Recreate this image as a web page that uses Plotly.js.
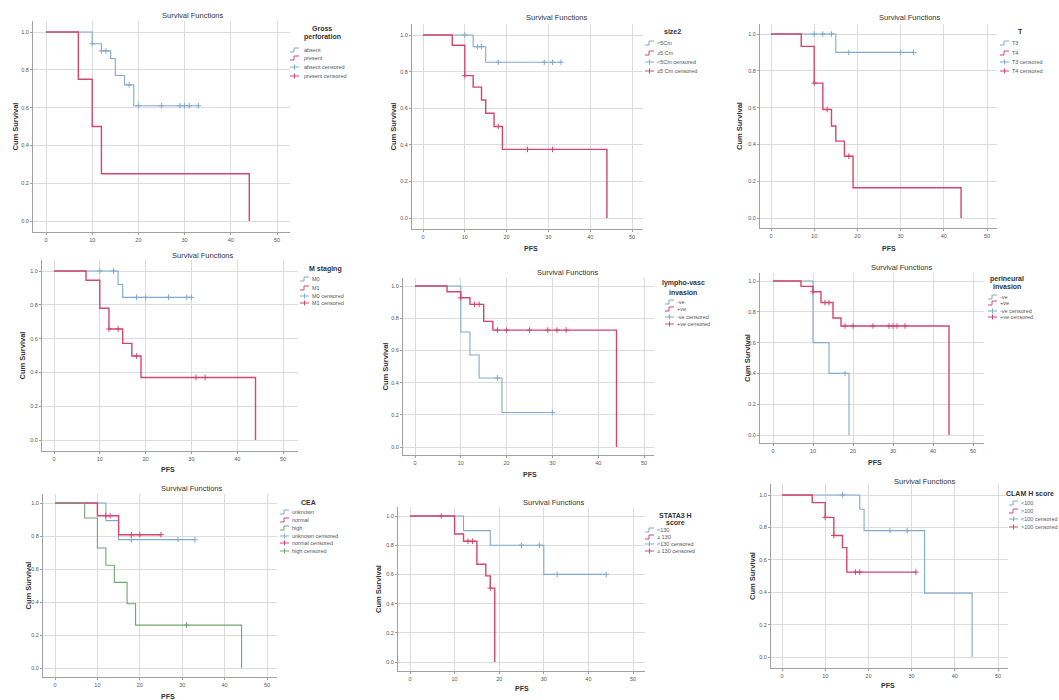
<!DOCTYPE html>
<html>
<head>
<meta charset="utf-8">
<script src="https://cdn.plot.ly/plotly-3.0.1.min.js"></script>
<style>html,body{margin:0;padding:0;background:#fff;}#chart{width:1059px;height:700px;}</style>
</head>
<body>
<div id="chart"></div>
<script>
// ---------------- DATA ----------------
const xTicks = [0, 10, 20, 30, 40, 50];
const yTicks = [0, 0.2, 0.4, 0.6, 0.8, 1.0];

// Panel 1: Gross perforation
const p1Labels = ['absent', 'present'];
const p1aT = [0, 10, 12, 14, 15, 17, 19, 33];
const p1aS = [1, 0.938, 0.90, 0.86, 0.77, 0.72, 0.61, 0.61];
const p1aC = [10, 12, 13, 18, 20, 25, 29, 30, 31, 33];
const p1bT = [0, 7, 10, 12, 44];
const p1bS = [1, 0.75, 0.50, 0.25, 0];
const p1bC = [];

// Panel 2: size2
const p2Labels = ['<5Cm', '\u22655 Cm'];
const p2aT = [0, 12, 15, 33];
const p2aS = [1, 0.936, 0.851, 0.851];
const p2aC = [10, 13, 14, 18, 29, 31, 33];
const p2bT = [0, 7, 10, 12, 14, 15, 17, 19, 44];
const p2bS = [1, 0.944, 0.778, 0.715, 0.645, 0.572, 0.50, 0.375, 0];
const p2bC = [10, 18, 25, 31];

// Panel 3: T
const p3Labels = ['T3', 'T4'];
const p3aT = [0, 15, 33];
const p3aS = [1, 0.90, 0.90];
const p3aC = [10, 12, 14, 18, 30, 33];
const p3bT = [0, 7, 10, 12, 14, 15, 17, 19, 44];
const p3bS = [1, 0.933, 0.733, 0.59, 0.50, 0.418, 0.336, 0.164, 0];
const p3bC = [10, 13, 18];

// Panel 4: M staging
const p4Labels = ['M0', 'M1'];
const p4aT = [0, 14, 15, 30];
const p4aS = [1, 0.92, 0.844, 0.844];
const p4aC = [10, 13, 18, 20, 25, 29, 30];
const p4bT = [0, 7, 10, 12, 15, 17, 19, 44];
const p4bS = [1, 0.945, 0.78, 0.657, 0.572, 0.497, 0.37, 0];
const p4bC = [12, 14, 18, 31, 33];

// Panel 5: lympho-vasc invasion
const p5Labels = ['-ve', '+ve'];
const p5aT = [0, 10, 12, 14, 19, 30];
const p5aS = [1, 0.714, 0.571, 0.429, 0.214, 0.214];
const p5aC = [18, 30];
const p5bT = [0, 7, 10, 12, 15, 17, 44];
const p5bS = [1, 0.964, 0.927, 0.886, 0.78, 0.726, 0];
const p5bC = [10, 13, 14, 18, 20, 25, 29, 31, 33];

// Panel 6: perineural invasion
const p6Labels = ['-ve', '+ve'];
const p6aT = [0, 10, 14, 19];
const p6aS = [1, 0.60, 0.40, 0];
const p6aC = [18];
const p6bT = [0, 7, 10, 12, 15, 17, 44];
const p6bS = [1, 0.965, 0.93, 0.86, 0.76, 0.708, 0];
const p6bC = [10, 13, 14, 18, 20, 25, 29, 30, 31, 33];

// Panel 7: CEA
const p7Labels = ['unknown', 'normal', 'high'];
const p7aT = [0, 12, 15, 33];
const p7aS = [1, 0.893, 0.778, 0.778];
const p7aC = [18, 29, 33];
const p7bT = [0, 10, 15, 25];
const p7bS = [1, 0.923, 0.808, 0.808];
const p7bC = [12, 13, 18, 20, 25];
const p7cT = [0, 7, 10, 12, 14, 17, 19, 44];
const p7cS = [1, 0.909, 0.727, 0.623, 0.519, 0.389, 0.26, 0];
const p7cC = [31];

// Panel 8: STATA3 H score
const p8Labels = ['<130', '\u2265 130'];
const p8aT = [0, 12, 18, 30, 44];
const p8aS = [1, 0.90, 0.80, 0.60, 0.60];
const p8aC = [25, 29, 33, 44];
const p8bT = [0, 10, 12, 15, 17, 18, 19];
const p8bS = [1, 0.877, 0.827, 0.67, 0.59, 0.506, 0];
const p8bC = [7, 13, 14, 18];

// Panel 9: CLAM H score
const p9Labels = ['<100', '>100'];
const p9aT = [0, 18, 19, 33, 44];
const p9aS = [1, 0.912, 0.78, 0.394, 0];
const p9aC = [14, 25, 29];
const p9bT = [0, 7, 10, 12, 14, 15, 31];
const p9bS = [1, 0.953, 0.862, 0.75, 0.675, 0.524, 0.524];
const p9bC = [10, 12, 17, 18, 31];

const legendTitles = [['Gross', 'perforation'], ['size2'], ['T'], ['M staging'], ['lympho-vasc', 'invasion'],
  ['perineural', 'invasion'], ['CEA'], ['STATA3 H', 'score'], ['CLAM H score']];

// ---------------- LAYOUT / STYLE ----------------
const W = 1059, H = 700;
const FONT = '"Liberation Sans", Arial, sans-serif';
const BLUE = '#82a9ce', RED = '#d4466e', GREEN = '#72a672';

const groups = [
  [[p1aT, p1aS, p1aC], [p1bT, p1bS, p1bC]],
  [[p2aT, p2aS, p2aC], [p2bT, p2bS, p2bC]],
  [[p3aT, p3aS, p3aC], [p3bT, p3bS, p3bC]],
  [[p4aT, p4aS, p4aC], [p4bT, p4bS, p4bC]],
  [[p5aT, p5aS, p5aC], [p5bT, p5bS, p5bC]],
  [[p6aT, p6aS, p6aC], [p6bT, p6bS, p6bC]],
  [[p7aT, p7aS, p7aC], [p7bT, p7bS, p7bC], [p7cT, p7cS, p7cC]],
  [[p8aT, p8aS, p8aC], [p8bT, p8bS, p8bC]],
  [[p9aT, p9aS, p9aC], [p9bT, p9bS, p9bC]]
];
const labels = [p1Labels, p2Labels, p3Labels, p4Labels, p5Labels, p6Labels, p7Labels, p8Labels, p9Labels];

// pixel geometry of each panel
const geo = [
  {L:33, X0:46, X50:277, R:290, Y1:32, Y0:221, B:232, t:[193,15], yl:15, xl:null, tx:322, ty:[28,37], ix:290, lx:302, ey:[50,58,67,76]},
  {L:412, X0:423, X50:632, R:643, Y1:35, Y0:218, B:229, t:[557,18], yl:393, xl:[531,248], tx:672, ty:[32], ix:645, lx:655, ey:[43,53,62,71]},
  {L:760, X0:771, X50:987, R:997, Y1:34, Y0:218, B:228, t:[910,18], yl:740, xl:[889,248], tx:1020, ty:[32], ix:1000, lx:1010, ey:[43,53,62,71]},
  {L:42, X0:54, X50:283, R:298, Y1:271, Y0:440, B:451, t:[203,255], yl:22, xl:[168,469], tx:325, ty:[269], ix:300, lx:310, ey:[279,288,296,303]},
  {L:403, X0:415, X50:644, R:654, Y1:286, Y0:447, B:455, t:[568,272], yl:385, xl:[530,474], tx:683, ty:[283,292], ix:665, lx:675, ey:[302,309,317,324]},
  {L:760, X0:773, X50:973, R:984, Y1:281, Y0:435, B:443, t:[902,267], yl:747, xl:[875,462], tx:1007, ty:[279,286], ix:988, lx:998, ey:[297,303,311,317]},
  {L:43, X0:55, X50:267, R:277, Y1:503, Y0:668, B:677, t:[192,488], yl:28, xl:[168,696], tx:308, ty:[502], ix:280, lx:290, ey:[512,520,528,536,543,551]},
  {L:398, X0:410, X50:633, R:645, Y1:516, Y0:662, B:671, t:[554,503], yl:378, xl:[522,688], tx:675, ty:[515,522], ix:645, lx:655, ey:[530,537,544,551]},
  {L:771, X0:782, X50:998, R:1008, Y1:495, Y0:657, B:668, t:[925,481], yl:752, xl:[888,685], tx:1030, ty:[493], ix:1009, lx:1019, ey:[503,511,519,527]}
];

const px = x => x / W;
const py = y => 1 - y / H;

function stepAt(t, s, c) {
  let v = s[0];
  for (let i = 0; i < t.length; i++) if (t[i] <= c) v = s[i];
  return v;
}

const traces = [];
const annotations = [];
const shapes = [];
const layout = {
  width: W, height: H,
  margin: {l: 0, r: 0, t: 0, b: 0},
  paper_bgcolor: '#fff', plot_bgcolor: '#fff',
  showlegend: false,
  font: {family: FONT, color: '#333'}
};

geo.forEach((g, i) => {
  const k = i + 1;
  const xs = k === 1 ? '' : String(k);
  const xa = 'x' + xs, ya = 'y' + xs;
  const pad = g.B - g.Y0;
  const T = g.Y1 - pad;
  const ux = (g.X50 - g.X0) / 50;
  const uy = g.Y0 - g.Y1;
  const axBase = {
    showgrid: true, gridcolor: '#dcdcdc', gridwidth: 1,
    showline: true, linecolor: '#a0a0a0', linewidth: 1,
    ticks: 'outside', ticklen: 2, tickwidth: 1, tickcolor: '#a0a0a0',
    tickfont: {family: FONT, size: 5.5, color: '#555'},
    zeroline: false, fixedrange: true
  };
  layout['xaxis' + xs] = Object.assign({}, axBase, {
    domain: [px(g.L), px(g.R)],
    range: [(g.L - g.X0) / ux, (g.R - g.X0) / ux],
    tickmode: 'array', tickvals: xTicks, ticktext: xTicks.map(String),
    anchor: ya
  });
  layout['yaxis' + xs] = Object.assign({}, axBase, {
    domain: [py(g.B), py(T)],
    range: [-pad / uy, 1 + pad / uy],
    tickmode: 'array', tickvals: yTicks, ticktext: yTicks.map(v => v.toFixed(1)),
    anchor: xa
  });

  const cols = groups[i].length === 3 ? [BLUE, RED, GREEN] : [BLUE, RED];
  groups[i].forEach((grp, j) => {
    const [t, s, c] = grp;
    traces.push({
      type: 'scatter', mode: 'lines', x: t, y: s, xaxis: xa, yaxis: ya,
      line: {shape: 'hv', color: cols[j], width: cols[j] === RED ? 1.4 : 1.1},
      hoverinfo: 'skip'
    });
    if (c.length) {
      traces.push({
        type: 'scatter', mode: 'markers', x: c, y: c.map(ci => stepAt(t, s, ci)),
        xaxis: xa, yaxis: ya,
        marker: {symbol: 'cross-thin', size: 4, color: cols[j], line: {width: 1, color: cols[j]}},
        hoverinfo: 'skip'
      });
    }
  });

  // panel title
  annotations.push({xref: 'paper', yref: 'paper', x: px(g.t[0]), y: py(g.t[1]), text: 'Survival Functions',
    showarrow: false, xanchor: 'center', yanchor: 'middle', font: {family: FONT, size: 7.5, color: '#333'}});
  // y title
  annotations.push({xref: 'paper', yref: 'paper', x: px(g.yl), y: py((g.Y1 + g.Y0) / 2), text: '<b>Cum Survival</b>',
    showarrow: false, textangle: -90, xanchor: 'center', yanchor: 'middle', font: {family: FONT, size: 7.5, color: '#333'}});
  // x title
  if (g.xl) annotations.push({xref: 'paper', yref: 'paper', x: px(g.xl[0]), y: py(g.xl[1]), text: '<b>PFS</b>',
    showarrow: false, xanchor: 'center', yanchor: 'middle', font: {family: FONT, size: 7, color: '#333'}});

  // legend title
  legendTitles[i].forEach((line, li) => {
    annotations.push({xref: 'paper', yref: 'paper', x: px(g.tx), y: py(g.ty[li]), text: '<b>' + line + '</b>',
      showarrow: false, xanchor: 'center', yanchor: 'middle', font: {family: FONT, size: 7, color: '#333'}});
  });
  // legend entries
  const names = labels[i];
  const n = names.length;
  for (let e = 0; e < 2 * n; e++) {
    const col = cols[e % n];
    const censored = e >= n;
    const yy = g.ey[e];
    const txt = censored ? names[e % n] + ' censored' : names[e];
    annotations.push({xref: 'paper', yref: 'paper', x: px(g.lx), y: py(yy), text: txt,
      showarrow: false, xanchor: 'left', yanchor: 'middle', font: {family: FONT, size: 5.5, color: '#555'}});
    if (!censored) {
      const p = 'M' + px(g.ix) + ',' + py(yy + 2) + ' L' + px(g.ix + 4) + ',' + py(yy + 2) +
        ' L' + px(g.ix + 4) + ',' + py(yy - 2) + ' L' + px(g.ix + 9) + ',' + py(yy - 2);
      shapes.push({type: 'path', xref: 'paper', yref: 'paper', path: p, line: {color: col, width: 1}});
    } else {
      shapes.push({type: 'line', xref: 'paper', yref: 'paper', x0: px(g.ix), x1: px(g.ix + 9), y0: py(yy), y1: py(yy),
        line: {color: col, width: 1}});
      shapes.push({type: 'line', xref: 'paper', yref: 'paper', x0: px(g.ix + 4.5), x1: px(g.ix + 4.5), y0: py(yy - 2.5), y1: py(yy + 2.5),
        line: {color: col, width: 1}});
    }
  }
});

layout.annotations = annotations;
layout.shapes = shapes;

Plotly.newPlot('chart', traces, layout, {displayModeBar: false, staticPlot: true});
</script>
</body>
</html>
